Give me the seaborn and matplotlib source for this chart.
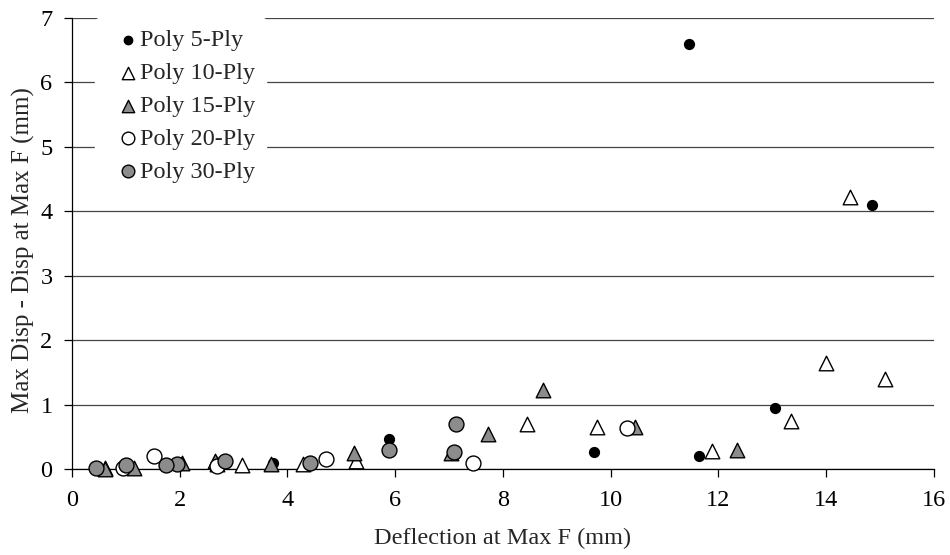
import numpy as np
import pandas as pd
import seaborn as sns
import matplotlib.pyplot as plt

# values
ply5_x = [11.45, 14.85, 13.05, 9.70, 11.65, 5.88, 3.73, 0.95]
ply5_y = [6.60, 4.10, 0.95, 0.27, 0.20, 0.47, 0.10, 0.03]

ply10_x = [14.45, 15.10, 14.00, 13.35, 11.88, 9.75, 8.45, 5.28, 4.28, 3.15, 2.70, 1.05, 0.62]
ply10_y = [4.22, 1.40, 1.65, 0.75, 0.28, 0.65, 0.70, 0.13, 0.08, 0.06, 0.08, 0.05, 0.02]

ply15_x = [8.75, 7.73, 10.45, 12.35, 7.03, 5.23, 3.70, 2.65, 2.05, 1.15, 0.62]
ply15_y = [1.22, 0.55, 0.65, 0.30, 0.25, 0.25, 0.07, 0.12, 0.10, 0.02, 0.00]

ply20_x = [10.30, 7.45, 4.72, 1.52, 2.70, 0.95]
ply20_y = [0.63, 0.10, 0.15, 0.20, 0.04, 0.02]

ply30_x = [7.13, 7.10, 5.88, 4.42, 2.85, 1.95, 1.75, 1.00, 0.45]
ply30_y = [0.70, 0.27, 0.30, 0.10, 0.12, 0.07, 0.06, 0.06, 0.02]

series = [
    ('Poly 5-Ply', ply5_x, ply5_y, 'o', 'black', 50),
    ('Poly 10-Ply', ply10_x, ply10_y, '^', 'white', 110),
    ('Poly 15-Ply', ply15_x, ply15_y, '^', '#8c8c8c', 110),
    ('Poly 20-Ply', ply20_x, ply20_y, 'o', 'white', 115),
    ('Poly 30-Ply', ply30_x, ply30_y, 'o', '#8c8c8c', 115),
]

sns.set_theme(style='white')
plt.rcParams['font.family'] = ['Liberation Serif', 'DejaVu Serif']

fig = plt.figure(figsize=(9.5, 5.55), dpi=100)
ax = fig.add_axes([0.0758, 0.155, 0.907, 0.8125])

for name, xs, ys, mk, fc, s in series:
    df = pd.DataFrame({'x': xs, 'y': ys})
    sns.scatterplot(data=df, x='x', y='y', ax=ax, marker=mk, color=fc,
                    edgecolor='black', linewidth=1.0, s=s, label=name,
                    zorder=3, clip_on=False)

ax.set_xlim(0, 16)
ax.set_ylim(0, 7)
ax.set_xticks(np.arange(0, 17, 2))
ax.set_yticks(np.arange(0, 8, 1))
ax.yaxis.grid(True, color='#444444', linewidth=0.9)
ax.set_axisbelow(True)
for side in ['top', 'right']:
    ax.spines[side].set_visible(False)
for side in ['left', 'bottom']:
    ax.spines[side].set_color('black')
    ax.spines[side].set_linewidth(0.9)

ax.tick_params(axis='x', direction='out', length=6, width=0.9, colors='black',
               labelsize=17.5, pad=9, bottom=True)
ax.tick_params(axis='y', direction='out', length=6, width=0.9, colors='black',
               labelsize=17.5, pad=8, left=True)
ax.set_xlabel('Deflection at Max F (mm)', fontsize=17.5, labelpad=12)
ax.set_ylabel('Max Disp - Disp at Max F (mm)', fontsize=18)
ax.yaxis.set_label_coords(-0.043, 0.486)

leg = ax.legend(loc='upper left', bbox_to_anchor=(0.027, 1.0), frameon=True,
                fontsize=17.5, handlelength=1.8, handletextpad=-0.4,
                labelspacing=0.45, borderpad=0.45, markerscale=0.85,
                borderaxespad=0)
leg.get_frame().set_facecolor('white')
leg.get_frame().set_edgecolor('white')
leg.get_frame().set_alpha(1)
leg.set_zorder(5)

fig.savefig('out.png', dpi=100)
